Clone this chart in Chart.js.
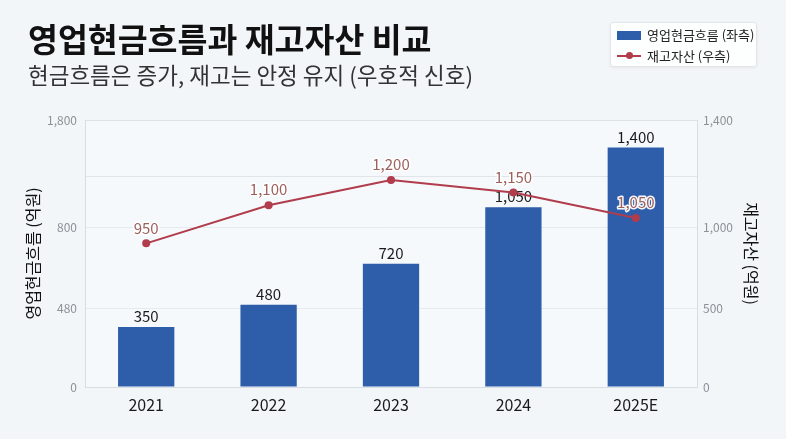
<!DOCTYPE html>
<html><head><meta charset="utf-8">
<script src="https://cdn.jsdelivr.net/npm/chart.js@4"></script>
<style>
html,body{margin:0;padding:0;background:#f2f6f9;}
#wrap{position:relative;width:786px;height:439px;overflow:hidden;font-family:"Noto Sans CJK KR","Noto Sans",sans-serif;}
canvas{position:absolute;left:0;top:0;}
#title{position:absolute;left:28px;top:19px;font-size:32.5px;font-weight:700;color:#111;line-height:38px;white-space:nowrap;}
#subtitle{position:absolute;left:28px;top:60px;font-size:22.5px;font-weight:400;color:#333;line-height:28px;white-space:nowrap;}
#legend{position:absolute;left:610px;top:22px;width:147px;height:45px;box-sizing:border-box;background:rgba(255,255,255,0.85);border:1px solid #e2e6ea;border-radius:3px;box-shadow:0 1px 3px rgba(0,0,0,0.06);font-size:13px;color:#222;}
.li{position:absolute;left:6px;height:16px;line-height:16px;white-space:nowrap;}
.sw{position:absolute;left:0;top:4px;width:24px;height:9px;}
.ln{position:absolute;left:0;top:7px;width:24px;height:2px;}
.dot{position:absolute;left:9px;top:4px;width:7px;height:7px;border-radius:50%;}
.tx{position:absolute;left:30px;top:0;}
</style></head>
<body><div id="wrap">
<canvas id="c" width="786" height="439"></canvas>
<div id="title">영업현금흐름과 재고자산 비교</div>
<div id="subtitle">현금흐름은 증가, 재고는 안정 유지 (우호적 신호)</div>
<div id="legend"></div>
</div>
<script>
const categories = ['2021', '2022', '2023', '2024', '2025E'];
const cashFlow = [350, 480, 720, 1050, 1400];
const inventory = [950, 1100, 1200, 1150, 1050];
const leftTickLabels = ['0', '480', '800', '', '1,800'];
const rightTickLabels = ['0', '500', '1,000', '', '1,400'];
const seriesNames = ['영업현금흐름 (좌측)', '재고자산 (우측)'];
const axisTitles = ['영업현금흐름 (억원)', '재고자산 (억원)'];

const FONT = '"Noto Sans CJK KR", "Noto Sans", sans-serif';
const BAR_COLOR = '#2e5ea9';
const LINE_COLOR = '#b03c4c';
const tickFractions = [0, 0.294, 0.596, 0.787, 1];
const gridColors = ['rgba(0,0,0,0)', 'rgba(215,222,229,0.55)', 'rgba(215,222,229,0.55)', '#e0e5ea', '#dde2e7'];
const fmt = v => v.toLocaleString('en-US');

function placeTicks(scale) {
  scale.ticks = tickFractions.map(f => ({ value: scale.min + f * (scale.max - scale.min) }));
}

const bgPlugin = {
  id: 'bg',
  beforeDraw(chart) {
    const { ctx, chartArea: a } = chart;
    ctx.save();
    ctx.fillStyle = '#f6f9fb';
    ctx.fillRect(a.left, a.top, a.right - a.left, a.bottom - a.top);
    ctx.restore();
  }
};

const labelPlugin = {
  id: 'valueLabels',
  afterDatasetDraw(chart, args) {
    if (args.index !== 0) return;
    const ctx = chart.ctx;
    ctx.save();
    ctx.font = '15px ' + FONT;
    ctx.textAlign = 'center';
    ctx.textBaseline = 'bottom';
    ctx.fillStyle = '#1a1a1a';
    args.meta.data.forEach((el, i) => ctx.fillText(fmt(cashFlow[i]), el.x, el.y - 3));
    ctx.restore();
  },
  afterDatasetsDraw(chart) {
    const ctx = chart.ctx;
    const meta = chart.getDatasetMeta(1);
    ctx.save();
    ctx.font = '15px ' + FONT;
    ctx.textAlign = 'center';
    ctx.textBaseline = 'bottom';
    ctx.lineJoin = 'round';
    ctx.lineWidth = 3;
    ctx.strokeStyle = 'rgba(255,255,255,0.95)';
    ctx.fillStyle = '#9c5f5c';
    meta.data.forEach((el, i) => {
      const t = fmt(inventory[i]);
      ctx.strokeText(t, el.x, el.y - 8);
      ctx.fillText(t, el.x, el.y - 8);
    });
    ctx.restore();
  }
};

const chart = new Chart(document.getElementById('c'), {
  data: {
    labels: categories,
    datasets: [
      { type: 'bar', label: seriesNames[0], data: cashFlow, backgroundColor: BAR_COLOR, yAxisID: 'y', order: 1,
        categoryPercentage: 1, barPercentage: 0.46 },
      { type: 'line', label: seriesNames[1], data: inventory, borderColor: LINE_COLOR, backgroundColor: LINE_COLOR,
        borderWidth: 2, pointRadius: 4, pointBorderWidth: 0, pointBackgroundColor: LINE_COLOR, yAxisID: 'y1', order: 0, tension: 0 }
    ]
  },
  options: {
    responsive: false,
    animation: false,
    devicePixelRatio: 1,
    layout: { padding: { top: 120, left: 0, right: 0, bottom: 0 } },
    plugins: { legend: { display: false }, tooltip: { enabled: false } },
    scales: {
      x: {
        afterFit: s => { s.height = 52; },
        grid: { display: false, drawTicks: false },
        border: { display: true, color: '#d7dde3', width: 1 },
        ticks: { padding: 8, color: '#1a1a1a', font: { family: FONT, size: 16 } }
      },
      y: {
        position: 'left', min: 0, max: 1560,
        afterFit: s => { s.width = 85; },
        afterBuildTicks: placeTicks,
        grid: { drawTicks: false, color: c => gridColors[c.index] || 'transparent', lineWidth: 1 },
        border: { display: true, color: '#d7dde3', width: 1 },
        ticks: { padding: 8, color: '#8c9198', font: { family: FONT, size: 12 }, callback: (v, i) => leftTickLabels[i] },
        title: { display: true, text: axisTitles[0], color: '#111', font: { family: FONT, size: 16 }, padding: { top: 23, bottom: 0 } }
      },
      y1: {
        position: 'right', min: 384, max: 1436,
        afterFit: s => { s.width = 89; },
        afterBuildTicks: placeTicks,
        grid: { drawOnChartArea: false, drawTicks: false },
        border: { display: true, color: '#d7dde3', width: 1 },
        ticks: { padding: 6, color: '#8c9198', font: { family: FONT, size: 12 }, callback: (v, i) => rightTickLabels[i] },
        title: { display: true, text: axisTitles[1], color: '#111', font: { family: FONT, size: 16 }, padding: { top: 25, bottom: 0 } }
      }
    }
  },
  plugins: [bgPlugin, labelPlugin]
});

// legend built from chart datasets
const lg = document.getElementById('legend');
chart.data.datasets.forEach((ds, i) => {
  const item = document.createElement('div');
  item.className = 'li';
  item.style.top = (i === 0 ? 4 : 25) + 'px';
  if (ds.type === 'bar') {
    item.innerHTML = '<div class="sw" style="background:' + ds.backgroundColor + '"></div>';
  } else {
    item.innerHTML = '<div class="ln" style="background:' + ds.borderColor + '"></div><div class="dot" style="background:' + ds.borderColor + '"></div>';
  }
  const t = document.createElement('div');
  t.className = 'tx';
  t.textContent = ds.label;
  item.appendChild(t);
  lg.appendChild(item);
});
</script>
</body></html>
